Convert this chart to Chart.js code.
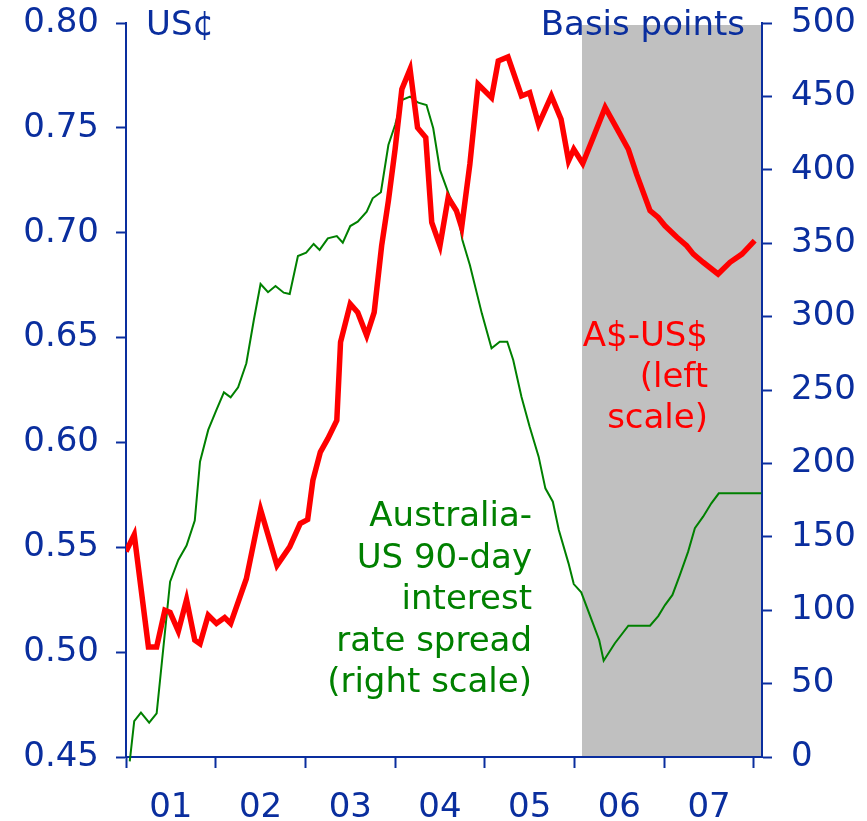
<!DOCTYPE html>
<html>
<head>
<meta charset="utf-8">
<script src="https://cdn.jsdelivr.net/npm/chart.js@4.4.1/dist/chart.umd.min.js"></script>
<style>
  html, body { margin: 0; padding: 0; background: #fff; }
  #wrap { width: 867px; height: 821px; }
</style>
</head>
<body>
<div id="wrap"><canvas id="fxChart"></canvas></div>
<script>
// A$ vs US$ (left, US cents) and Australia-US 90-day rate spread (right, bp)

const BLUE = '#0a2e9e';
const FONT = '"DejaVu Sans", Verdana, sans-serif';

// months counted from January 2001
const audMonths = [0, 1.1, 3, 4.1, 5.2, 5.9, 7, 8.1, 9.2, 9.9, 11, 12.1, 13.2, 14, 16.1, 18,
  20.2, 21.9, 23.3, 24.3, 25, 26, 27, 28.2, 28.7, 30, 31, 32.2, 33.2, 34.2, 35.1, 36, 36.9,
  38, 39, 40.1, 40.9, 42, 43.1, 44.2, 44.9, 46, 47.1, 48.9, 49.8, 51.1, 52.9, 54, 55.2,
  56.9, 58.2, 59.2, 59.9, 61.1, 62.5, 64.1, 65.6, 67.2, 68.3, 70.1, 71.2, 72.1, 73.7, 75,
  75.9, 77.2, 79.2, 80.8, 82.4, 84.1];
const audValues = [0.548, 0.556, 0.5025, 0.5025, 0.520, 0.519, 0.510, 0.525, 0.5057, 0.504,
  0.5176, 0.5137, 0.5165, 0.5137, 0.535, 0.568, 0.5414, 0.5502, 0.5613, 0.5632, 0.5819,
  0.5954, 0.6018, 0.6105, 0.6478, 0.666, 0.662, 0.651, 0.662, 0.6938, 0.7152, 0.7399,
  0.7684, 0.778, 0.7501, 0.7454, 0.7049, 0.6938, 0.7168, 0.7105, 0.7025, 0.7327, 0.7708,
  0.7644, 0.7819, 0.7838, 0.7652, 0.7668, 0.7517, 0.7652, 0.7541, 0.7343, 0.7398, 0.733,
  0.7454, 0.7597, 0.7501, 0.7398, 0.7279, 0.7105, 0.7073, 0.7033, 0.6978, 0.6938, 0.6898,
  0.6859, 0.6803, 0.6859, 0.6898, 0.6962];

const spreadMonths = [0.5, 1.1, 2, 3.1, 4.1, 5.9, 7, 8.1, 9.2, 9.9, 11, 12.1, 13.1, 14, 15,
  16.1, 17.1, 18, 19, 20, 21.1, 21.9, 23, 24.1, 25.1, 25.9, 27, 28.2, 29, 30, 31, 32.2, 33,
  34.1, 35.1, 36, 36.9, 38, 39.1, 40.2, 41.1, 42, 43.3, 44.4, 45, 46, 47.6, 48.9, 50, 51,
  51.8, 52.9, 54, 55.2, 56.1, 57.1, 57.9, 59.2, 59.9, 60.9, 62.3, 63.3, 63.9, 65.4, 67.2,
  70.1, 71.2, 72.1, 73.1, 74.1, 75.2, 76.1, 77.2, 78.3, 79.3, 85];
const spreadValues = [-3, 24.5, 30.2, 23.4, 29.8, 119.4, 134.2, 144, 161, 201.2, 222.8, 236.4,
  248.4, 245, 251.8, 268.2, 297.7, 322.2, 316.6, 320.8, 316.3, 315.4, 341.3, 343.5, 349.5,
  345.4, 353.3, 354.9, 350.3, 361.7, 364.7, 371.5, 380.6, 384.7, 416.9, 430.5, 447.5, 449.8,
  445.7, 444.1, 428.3, 399.9, 381.7, 370.4, 352.2, 335.1, 302.2, 278.4, 282.9, 282.9, 270.4,
  245.4, 225, 204.6, 183, 173.9, 154.6, 131.9, 117.8, 112.2, 93.3, 79.7, 65.6, 77.5, 89.4,
  89.4, 96, 103.5, 110.4, 124, 139.9, 155.8, 163.7, 172.8, 179.6, 179.6];

const yearTicks = [2001, 2002, 2003, 2004, 2005, 2006, 2007, 2008];
const yearLabels = ['01', '02', '03', '04', '05', '06', '07'];
const xMax = 2008.09;
const shadeFrom = 2001 + 61 / 12;

const toPoints = (months, values) => months.map((m, i) => ({ x: 2001 + m / 12, y: values[i] }));

// grey band for the later period, drawn under the axes
const shadePlugin = {
  id: 'shade',
  beforeDraw(chart) {
    const { ctx, chartArea } = chart;
    const x0 = chart.scales.x.getPixelForValue(shadeFrom);
    ctx.save();
    ctx.fillStyle = '#c0c0c0';
    ctx.fillRect(x0, chartArea.top + 2, chartArea.right - x0, chartArea.bottom - chartArea.top - 2);
    ctx.restore();
  }
};

const textPlugin = {
  id: 'chartText',
  afterDatasetsDraw(chart) {
    const ctx = chart.ctx;
    ctx.save();
    ctx.font = '34px ' + FONT;
    ctx.textBaseline = 'alphabetic';
    ctx.fillStyle = BLUE;
    ctx.textAlign = 'left';
    ctx.fillText('US¢', 146, 35);
    ctx.textAlign = 'right';
    ctx.fillText('Basis points', 745, 35);

    ctx.fillStyle = '#ff0000';
    ['A$-US$', '(left', 'scale)'].forEach((t, i) => ctx.fillText(t, 708, 346 + i * 41));

    ctx.fillStyle = '#008000';
    ['Australia-', 'US 90-day', 'interest', 'rate spread', '(right scale)']
      .forEach((t, i) => ctx.fillText(t, 532, 526 + i * 41.5));
    ctx.restore();
  }
};

const axisGrid = {
  drawOnChartArea: false,
  drawTicks: true,
  tickLength: 10,
  tickWidth: 2,
  color: BLUE,
  tickColor: BLUE
};

// keep the plot box fixed: no extra room for half-height end labels
function fixVertical(width) {
  return (axis) => {
    axis.width = width;
    axis.paddingTop = 0;
    axis.paddingBottom = 0;
  };
}

new Chart(document.getElementById('fxChart'), {
  type: 'line',
  data: {
    datasets: [
      {
        label: 'A$-US$',
        data: toPoints(audMonths, audValues),
        yAxisID: 'y',
        borderColor: '#ff0000',
        borderWidth: 5.5,
        pointRadius: 0,
        tension: 0
      },
      {
        label: 'Australia-US 90-day interest rate spread',
        data: toPoints(spreadMonths, spreadValues),
        yAxisID: 'y1',
        borderColor: '#008000',
        borderWidth: 2,
        pointRadius: 0,
        tension: 0,
        clip: false
      }
    ]
  },
  options: {
    responsive: true,
    maintainAspectRatio: false,
    animation: false,
    layout: { padding: { top: 23, left: 0, right: 0, bottom: 0 } },
    plugins: {
      legend: { display: false },
      tooltip: { enabled: false }
    },
    scales: {
      x: {
        type: 'linear',
        min: 2001,
        max: xMax,
        afterBuildTicks(axis) {
          const ticks = [];
          yearTicks.forEach((y, i) => {
            ticks.push({ value: y });
            if (i < yearLabels.length) ticks.push({ value: y + 0.5 });
          });
          axis.ticks = ticks;
        },
        afterFit(axis) {
          axis.height = 64;
          axis.paddingLeft = 0;
          axis.paddingRight = 0;
        },
        border: { display: true, color: BLUE, width: 2 },
        grid: {
          ...axisGrid,
          tickLength: 11,
          tickColor: (c) => (c.tick && c.tick.value % 1 === 0 ? BLUE : 'rgba(0,0,0,0)')
        },
        ticks: {
          autoSkip: false,
          maxRotation: 0,
          padding: 20,
          color: BLUE,
          font: { family: FONT, size: 34 },
          callback: (v) => {
            const i = yearTicks.indexOf(v - 0.5);
            return v % 1 !== 0 && i >= 0 ? yearLabels[i] : '';
          }
        }
      },
      y: {
        position: 'left',
        min: 0.45,
        max: 0.80,
        afterFit: fixVertical(126),
        border: { display: true, color: BLUE, width: 2 },
        grid: axisGrid,
        ticks: {
          stepSize: 0.05,
          padding: 17,
          color: BLUE,
          font: { family: FONT, size: 34 },
          callback: (v) => v.toFixed(2)
        }
      },
      y1: {
        position: 'right',
        min: 0,
        max: 500,
        afterFit: fixVertical(105),
        border: { display: true, color: BLUE, width: 2 },
        grid: axisGrid,
        ticks: {
          stepSize: 50,
          padding: 19,
          color: BLUE,
          font: { family: FONT, size: 34 }
        }
      }
    }
  },
  plugins: [shadePlugin, textPlugin]
});
</script>
</body>
</html>
